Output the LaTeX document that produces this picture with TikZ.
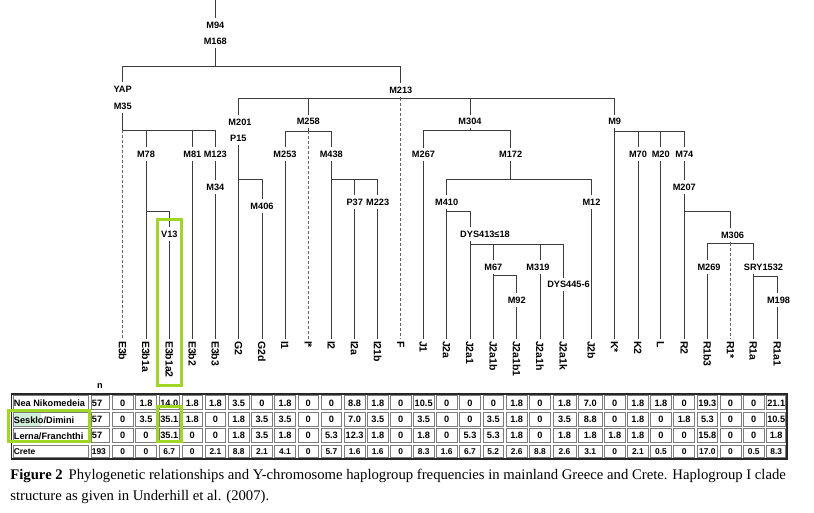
\documentclass[tikz,border=0pt]{standalone}
\usepackage{fontspec}
\setmainfont{Liberation Serif}
\setsansfont{Liberation Sans}
\definecolor{branchgray}{RGB}{60,60,60}
\definecolor{dashgray}{RGB}{100,100,100}
\definecolor{cellgray}{RGB}{125,125,125}
\definecolor{selectgreen}{RGB}{160,214,36}
\definecolor{markgreen}{RGB}{208,238,218}

\begin{document}
\begin{tikzpicture}[x=1pt, y=-1pt,
                    line width=0.8pt,
                    ]
    \tikzstyle{marker}=[font=\sffamily\bfseries\fontsize{9.2}{10}\selectfont,inner sep=0pt,outer sep=3.5pt,text height=6.6pt,text depth=0pt]
    \tikzstyle{leaf}=[marker,font=\sffamily\bfseries\fontsize{10.5}{12}\selectfont,text height=7.6pt,rotate=-90,anchor=west,outer sep=2pt]
    \tikzstyle{branch}=[draw=branchgray]
    \tikzstyle{unresolved}=[draw=dashgray,dash pattern=on 3pt off 2pt]
    \tikzstyle{cellline}=[draw=cellgray,line width=0.7pt]
    \tikzstyle{entry}=[font=\sffamily\bfseries\fontsize{9.2}{10}\selectfont,inner sep=0pt]
    \tikzstyle{smallentry}=[entry,font=\sffamily\bfseries\fontsize{8.4}{10}\selectfont]
    \tikzstyle{selected}=[draw=selectgreen,line width=3pt]

    \useasboundingbox (0,0) rectangle (814,513);

    \coordinate (top) at (215.3,0);
    \coordinate (b0) at (0,66);
    \coordinate (b1) at (0,130);
    \coordinate (b2) at (0,211);
    \coordinate (b3) at (0,98.3);
    \coordinate (b4) at (0,179);
    \coordinate (b5) at (0,131);
    \coordinate (b6) at (0,179.3);
    \coordinate (b7) at (0,130.7);
    \coordinate (b8) at (0,179);
    \coordinate (b9) at (0,211.7);
    \coordinate (b10) at (0,244);
    \coordinate (b11) at (0,275.7);
    \coordinate (b12) at (0,131);
    \coordinate (b13) at (0,211.7);
    \coordinate (b14) at (0,243.3);
    \coordinate (b15) at (0,276);

    \node[leaf] (e3b) at (122.7,339) {E3b};
    \node[leaf] (e3b1a) at (146,339) {E3b1a};
    \node[leaf] (e3b1a2) at (169.3,339) {E3b1a2};
    \node[leaf] (e3b2) at (192.3,339) {E3b2};
    \node[leaf] (e3b3) at (215.3,339) {E3b3};
    \node[leaf] (g2) at (238.7,339) {G2};
    \node[leaf] (g2d) at (262,339) {G2d};
    \node[leaf] (i1) at (285,339) {I1};
    \node[leaf] (istar) at (308.3,339) {I*};
    \node[leaf] (i2) at (331.3,339) {I2};
    \node[leaf] (i2a) at (354.7,339) {I2a};
    \node[leaf] (i21b) at (377.7,339) {I21b};
    \node[leaf] (f) at (400.8,339) {F};
    \node[leaf] (j1) at (423.5,339) {J1};
    \node[leaf] (j2a) at (446.7,339) {J2a};
    \node[leaf] (j2a1) at (470,339) {J2a1};
    \node[leaf] (j2a1b) at (493.3,339) {J2a1b};
    \node[leaf] (j2a1b1) at (516.7,339) {J2a1b1};
    \node[leaf] (j2a1h) at (540,339) {J2a1h};
    \node[leaf] (j2a1k) at (563.3,339) {J2a1k};
    \node[leaf] (j2b) at (591.5,339) {J2b};
    \node[leaf] (kstar) at (614.7,339) {K*};
    \node[leaf] (k2) at (638,339) {K2};
    \node[leaf] (l) at (660.7,339) {L};
    \node[leaf] (r2) at (684.3,339) {R2};
    \node[leaf] (r1b3) at (707.3,339) {R1b3};
    \node[leaf] (rstar) at (730.7,339) {R1*};
    \node[leaf] (r1a) at (753.5,339) {R1a};
    \node[leaf] (r1a1) at (777.3,339) {R1a1};

    \node[marker] (m94) at (215.3,25.3) {M94};
    \node[marker] (m168) at (215.3,41.7) {M168};
    \node[marker] (yap) at (122.7,89.3) {YAP};
    \node[marker] (m35) at (122.7,106.7) {M35};
    \node[marker] (m78) at (146,154.3) {M78};
    \node[marker] (m81) at (192.3,154.3) {M81};
    \node[marker] (m123) at (215.3,154.3) {M123};
    \node[marker] (m34) at (215.3,187) {M34};
    \node[marker] (v13) at (169.3,234.3) {V13};
    \node[marker] (m213) at (400.8,90) {M213};
    \node[marker] (m201) at (240,122.3) {M201};
    \node[marker] (p15) at (238.3,138.3) {P15};
    \node[marker] (m406) at (262,206) {M406};
    \node[marker] (m258) at (308.3,121.7) {M258};
    \node[marker] (m253) at (285,154.3) {M253};
    \node[marker] (m438) at (331.3,154.3) {M438};
    \node[marker] (p37) at (354.7,202.3) {P37};
    \node[marker] (m223) at (377.7,202.3) {M223};
    \node[marker] (m304) at (470,121.7) {M304};
    \node[marker] (m267) at (423.5,154.7) {M267};
    \node[marker] (m172) at (510.7,154.7) {M172};
    \node[marker] (m410) at (446.7,202.3) {M410};
    \node[marker] (m12) at (591.5,202.3) {M12};
    \node[marker] (dys413) at (485,234.3) {DYS413≤18};
    \node[marker] (m67) at (493.3,267.3) {M67};
    \node[marker] (m319) at (538,267.3) {M319};
    \node[marker] (dys445) at (568.5,284.3) {DYS445-6};
    \node[marker] (m92) at (516.7,300) {M92};
    \node[marker] (m9) at (614.7,121.7) {M9};
    \node[marker] (m70) at (638,154.3) {M70};
    \node[marker] (m20) at (660.7,154.3) {M20};
    \node[marker] (m74) at (684.3,154.3) {M74};
    \node[marker] (m207) at (684.3,187.3) {M207};
    \node[marker] (m306) at (732.5,235) {M306};
    \node[marker] (m269) at (709,267.3) {M269};
    \node[marker] (sry) at (763.5,267.3) {SRY1532};
    \node[marker] (m198) at (778.5,300) {M198};

    \draw[branch] (top) -- (m94);
    \draw[branch] (m168) -- (m168 |- b0);
    \draw[branch] (yap) |- (m213 |- b0) -- (m213);

    \draw[branch] (m35) -- (m35 |- b1);
    \draw[branch] (e3b |- b1) -- (e3b3 |- b1) -- (m123);
    \draw[unresolved] (e3b |- b1) -- (e3b);
    \draw[branch] (e3b1a |- b1) -- (m78);
    \draw[branch] (e3b2 |- b1) -- (m81);
    \draw[branch] (m78) -- (e3b1a);
    \draw[branch] (e3b1a |- b2) -| (v13);
    \draw[branch] (v13) -- (e3b1a2);
    \draw[branch] (m81) -- (e3b2);
    \draw[branch] (m123) -- (m34);
    \draw[branch] (m34) -- (e3b3);

    \draw[branch] (m213) -- (f |- b3);
    \draw[branch] (g2 |- b3) -- (kstar |- b3);
    \draw[unresolved] (f |- b3) -- (f);
    \draw[branch] (g2 |- b3) -- (g2 |- m201.north);
    \draw[branch] (istar |- b3) -- (m258);
    \draw[branch] (j2a1 |- b3) -- (m304);
    \draw[branch] (kstar |- b3) -- (m9);

    \draw[branch] (g2 |- p15.south) -- (g2);
    \draw[branch] (g2 |- b4) -| (m406);
    \draw[branch] (m406) -- (g2d);

    \draw[branch] (m258) -- (istar |- b5);
    \draw[branch] (m253) |- (m438 |- b5) -- (m438);
    \draw[unresolved] (istar |- b5) -- (istar);
    \draw[branch] (m253) -- (i1);
    \draw[branch] (m438) -- (i2);
    \draw[branch] (i2 |- b6) -| (m223);
    \draw[branch] (p37 |- b6) -- (p37);
    \draw[branch] (p37) -- (i2a);
    \draw[branch] (m223) -- (i21b);

    \draw[branch] (m304) -- (j2a1 |- b7);
    \draw[branch] (m267) |- (m172 |- b7) -- (m172);
    \draw[branch] (m267) -- (j1);
    \draw[branch] (m172) -- (m172 |- b8);
    \draw[branch] (m410) |- (m12 |- b8) -- (m12);
    \draw[branch] (m410) -- (j2a);
    \draw[branch] (m12) -- (j2b);

    \draw[branch] (j2a |- b9) -| (j2a1 |- dys413.north);
    \draw[branch] (j2a1 |- dys413.south) -- (j2a1 |- b10) -| (j2a1k |- dys445.north);
    \draw[branch] (j2a1 |- b10) -- (j2a1);
    \draw[branch] (m67 |- b10) -- (m67);
    \draw[branch] (j2a1h |- b10) -- (j2a1h |- m319.north);
    \draw[branch] (j2a1k |- dys445.south) -- (j2a1k);
    \draw[branch] (m67) -- (j2a1b);
    \draw[branch] (j2a1b |- b11) -| (m92);
    \draw[branch] (m92) -- (j2a1b1);
    \draw[branch] (j2a1h |- m319.south) -- (j2a1h);

    \draw[branch] (m9) -- (kstar);
    \draw[branch] (kstar |- b12) -- (m74 |- b12) -- (m74);
    \draw[branch] (m70 |- b12) -- (m70);
    \draw[branch] (m20 |- b12) -- (m20);
    \draw[branch] (m70) -- (k2);
    \draw[branch] (m20) -- (l);
    \draw[branch] (m74) -- (m207);
    \draw[branch] (m207) -- (r2);
    \draw[branch] (r2 |- b13) -| (rstar |- m306.north);
    \draw[branch] (rstar |- m306.south) -- (rstar |- b14);
    \draw[branch] (r1b3 |- m269.north) |- (r1a |- b14) -- (r1a |- sry.north);
    \draw[unresolved] (rstar |- b14) -- (rstar);
    \draw[branch] (r1b3 |- m269.south) -- (r1b3);
    \draw[branch] (r1a |- sry.south) -- (r1a);
    \draw[branch] (r1a |- b15) -| (r1a1 |- m198.north);
    \draw[branch] (r1a1 |- m198.south) -- (r1a1);

    \fill[markgreen] (13,413) rectangle (40.5,426);

    \node[entry] (ncol) at (100,386) {n};
    \node[entry,anchor=west] (nea) at (13.5,403.5) {Nea Nikomedeia};
    \node[entry,anchor=west] (sesklo) at (13.5,419.8) {Sesklo/Dimini};
    \node[entry,anchor=west] (lerna) at (13.5,436) {Lerna/Franchthi};
    \node[smallentry,anchor=west] (crete) at (13.5,452) {Crete};
    \node[entry,anchor=west] (nea-n) at (91.5,403) {57};
    \node[entry,anchor=west] (sesklo-n) at (91.5,419.3) {57};
    \node[entry,anchor=west] (lerna-n) at (91.5,435.5) {57};
    \node[smallentry,anchor=west] (crete-n) at (91.5,451.5) {193};

    \foreach \l/\r in {12.5/90,90/111}{
        \draw[cellline] (\l+1.2,395.2) rectangle (\r-1.2,409.8);
        \draw[cellline] (\l+1.2,412.2) rectangle (\r-1.2,426.3);
        \draw[cellline] (\l+1.2,428.7) rectangle (\r-1.2,442.8);
        \draw[cellline] (\l+1.2,445.2) rectangle (\r-1.2,457.8);
    }
    \foreach \l/\r/\a/\b/\c/\d [count=\i] in {
        111/134.35/0/0/0/0, 134.35/157.65/1.8/3.5/0/0, 157.65/180.8/14.0/35.1/35.1/6.7,
        180.8/203.8/1.8/1.8/0/0, 203.8/227/1.8/0/0/2.1, 227/250.35/3.5/1.8/1.8/8.8,
        250.35/273.5/0/3.5/3.5/2.1, 273.5/296.65/1.8/3.5/1.8/4.1, 296.65/319.8/0/0/0/0,
        319.8/343/0/0/5.3/5.7, 343/366.2/8.8/7.0/12.3/1.6, 366.2/389.35/1.8/3.5/1.8/1.6,
        389.35/412.25/0/0/0/0, 412.25/435.1/10.5/3.5/1.8/8.3, 435.1/458.35/0/0/0/1.6,
        458.35/481.65/0/0/5.3/6.7, 481.65/505/0/3.5/5.3/5.2, 505/528.35/1.8/1.8/1.8/2.6,
        528.35/551.65/0/0/0/8.8, 551.65/577.4/1.8/3.5/1.8/2.6, 577.4/603.1/7.0/8.8/1.8/3.1,
        603.1/626.35/0/0/1.8/0, 626.35/649.35/1.8/1.8/1.8/2.1, 649.35/672.5/1.8/0/0/0.5,
        672.5/695.8/0/1.8/0/0, 695.8/719/19.3/5.3/15.8/17.0, 719/742.1/0/0/0/0,
        742.1/765.4/0/0/0/0.5, 765.4/787/21.1/10.5/1.8/8.3}{
        \draw[cellline] (\l+1.2,395.2) rectangle (\r-1.2,409.8);
        \draw[cellline] (\l+1.2,412.2) rectangle (\r-1.2,426.3);
        \draw[cellline] (\l+1.2,428.7) rectangle (\r-1.2,442.8);
        \draw[cellline] (\l+1.2,445.2) rectangle (\r-1.2,457.8);
        \node[entry] (nea-\i) at ({(\l+\r)/2},403) {\a};
        \node[entry] (sesklo-\i) at ({(\l+\r)/2},419.3) {\b};
        \node[entry] (lerna-\i) at ({(\l+\r)/2},435.5) {\c};
        \node[smallentry] (crete-\i) at ({(\l+\r)/2},451.5) {\d};
    }
    \draw[line width=1.4pt,draw=black!85] (11.7,394) rectangle (787,459);

    \draw[selected] (157,220) rectangle (181,385);
    \draw[selected] (157.3,406.3) rectangle (181,441.3);
    \draw[selected] (8,410.3) rectangle (89.5,441.3);

    \node[anchor=north west,inner sep=0pt,align=left,font=\fontsize{14.7}{21}\selectfont] (caption) at (10,468.5) {\textbf{Figure 2}\hspace{0.4em}Phylogenetic relationships and Y-chromosome haplogroup frequencies in mainland Greece and Crete. Haplogroup I clade\\structure as given in Underhill et al. (2007).};
\end{tikzpicture}
\end{document}
